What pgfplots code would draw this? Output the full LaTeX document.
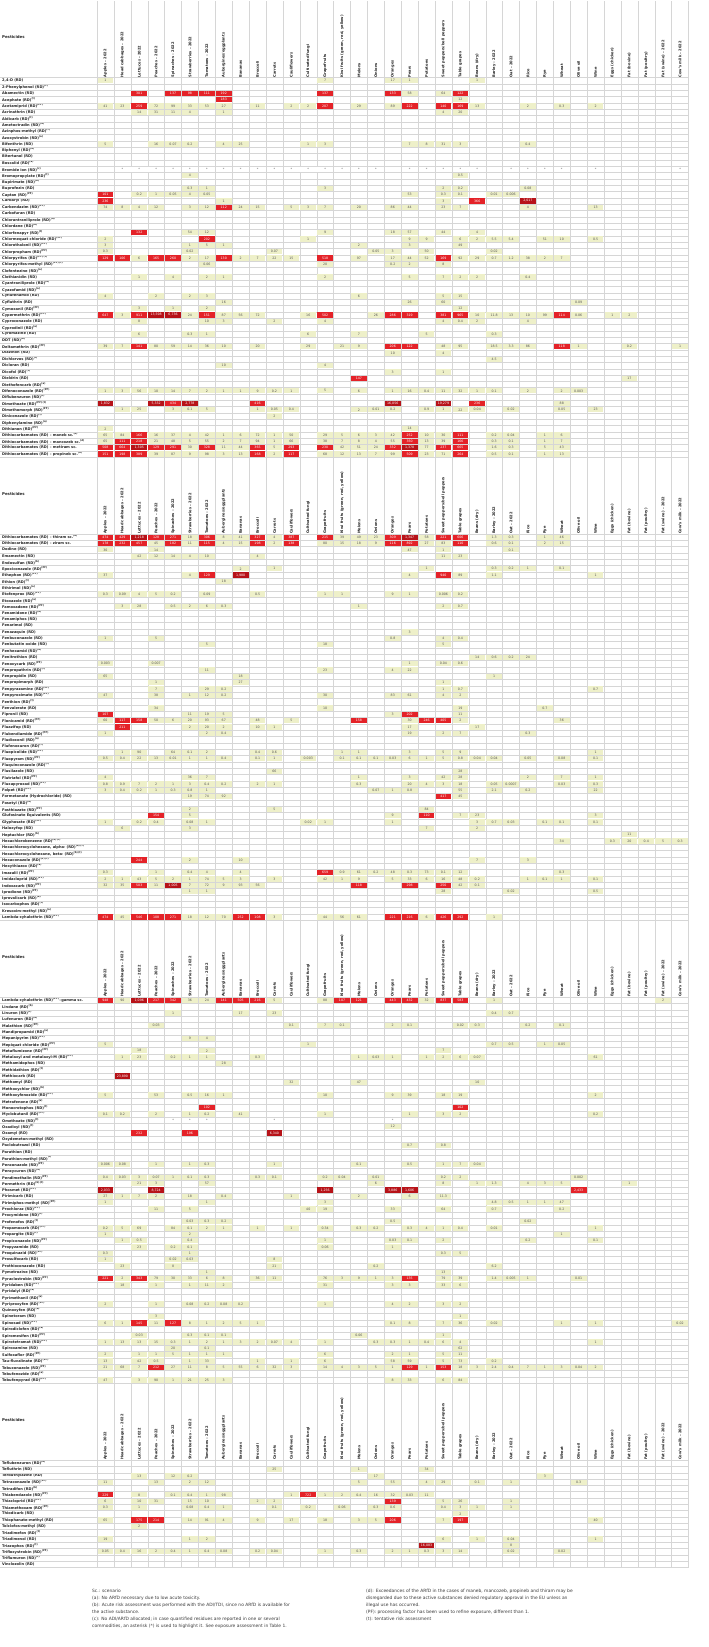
\documentclass[border=0pt]{standalone}
\usepackage{pgfplots}
\usepackage{pgfplotstable}
\pgfplotsset{compat=1.18}
\usepackage{fontspec}
\setmainfont{DejaVu Sans}
\definecolor{cg}{RGB}{238,240,201}
\definecolor{cr}{RGB}{228,34,40}
\definecolor{cd}{RGB}{183,18,24}
\definecolor{gridc}{RGB}{214,214,214}
\definecolor{txtd}{RGB}{35,35,35}
\definecolor{txtv}{RGB}{85,85,85}
\definecolor{txtf}{RGB}{60,60,60}
\newcommand\namefont{\fontsize{3.6bp}{4bp}\selectfont\bfseries}
\newcommand\valfont{\fontsize{3.2bp}{4bp}\selectfont}
\newcommand\hdrfont{\fontsize{3.6bp}{4bp}\selectfont\bfseries}
\newcommand\footfont{\fontsize{4.4bp}{5bp}\selectfont}
\newcommand\s[1]{\textsuperscript{(#1)}}
\pgfdeclareplotmark{cell}{\pgfpathrectangle{\pgfpoint{-7.85bp}{-2.66bp}}{\pgfpoint{15.7bp}{5.32bp}}\pgfusepathqfill}
\pgfplotsset{
 tbl/.style={scale only axis, width=591.5bp, xmin=0, xmax=35, ymin=0, y dir=reverse, clip=false,
  axis line style={draw=gridc, line width=0.4bp},
  xtick={0.5,1.5,...,34.5},
  xticklabels={Apples – 2022, Head cabbages – 2022, Lettuces – 2022, Peaches – 2022, Spinaches – 2022, Strawberries – 2022, Tomatoes – 2022, Aubergines/eggplants, Bananas, Broccoli, Carrots, Cauliflowers, Cultivated fungi, Grapefruits, {Kiwi fruits (green, red, yellow)}, Melons, Onions, Oranges, Pears, Potatoes, Sweet peppers/bell peppers, Table grapes, Beans (dry), Barley – 2022, Oat – 2022, Rice, Rye, Wheat, Olive oil, Wine, Eggs (chicken), Fat (bovine), Fat (poultry), Fat (swine) – 2022, Cow's milk – 2022},
  xticklabel pos=right,
  xticklabel style={rotate=90, anchor=west, font=\hdrfont, text=txtd, inner sep=0pt},
  minor xtick={0,1,...,35}, xminorgrids=true, yminorgrids=true,
  minor grid style={draw=gridc, line width=0.35bp},
  major tick length=0pt, minor tick length=0pt,
  yticklabel style={anchor=west, font=\namefont, text=txtd, inner sep=0pt, xshift=-95bp}},
 pcell/.style 2 args={only marks, mark=cell, mark options={fill=#1, draw=none}, point meta=explicit symbolic,
  nodes near coords, every node near coord/.append style={anchor=center, font=\valfont, text=#2, inner sep=0pt}},
 cls/.style={restrict expr to domain={\thisrow{c}}{#1:#1}}
}
\newcommand\cellplots[1]{%
 \addplot[pcell={cg}{txtv}, cls=0] table[x expr=\thisrow{x}+0.5, y expr=\thisrow{y}+0.5, meta=v]{#1};
 \addplot[pcell={cr}{white}, cls=1] table[x expr=\thisrow{x}+0.5, y expr=\thisrow{y}+0.5, meta=v]{#1};
 \addplot[pcell={cd}{white}, cls=2] table[x expr=\thisrow{x}+0.5, y expr=\thisrow{y}+0.5, meta=v]{#1};}
\newcommand\starplot[1]{%
 \addplot[pcell={white}{txtv}, cls=3] table[x expr=\thisrow{x}+0.5, y expr=\thisrow{y}+0.5, meta=v]{#1};}
\newcommand\deco[1]{%
 \pgfplotsinvokeforeach{0,...,35}{\draw[gridc,line width=0.35bp] (axis cs:##1,0) -- ++(0,77bp);}
 \pgfplotsinvokeforeach{0,...,#1}{\draw[gridc,line width=0.35bp] (axis cs:0,##1) -- ++(-97bp,0);}
 \node[anchor=west, font=\fontsize{3.9bp}{4bp}\selectfont\bfseries, text=txtd, inner sep=0pt] at ([xshift=-95bp,yshift=40bp]axis cs:0,0) {Pesticides};}
% ---------------- data: x = commodity column, y = pesticide row, v = value, c = class (0 low, 1 high, 2 very high, 3 asterisk)
\pgfplotstableread[row sep=\\]{
x y v c\\
0 0 1 0\\ 13 0 7 0\\ 17 0 17 0\\ 18 0 1 0\\ 22 0 1 0\\
2 2 301 1\\ 4 2 137 1\\ 5 2 98 1\\ 6 2 111 1\\ 7 2 192 1\\ 13 2 137 1\\ 17 2 133 1\\ 18 2 58 0\\ 20 2 64 0\\ 21 2 122 1\\
7 3 183 1\\ 21 3 12 0\\
0 4 41 0\\ 1 4 23 0\\ 2 4 259 1\\ 3 4 72 0\\ 4 4 99 0\\ 5 4 33 0\\ 6 4 53 0\\ 7 4 27 0\\ 9 4 11 0\\ 11 4 2 0\\ 12 4 2 0\\ 13 4 207 1\\ 15 4 29 0\\ 17 4 89 0\\ 18 4 222 1\\ 20 4 140 1\\ 21 4 169 1\\ 22 4 13 0\\ 25 4 2 0\\ 27 4 0.3 0\\ 29 4 2 0\\
2 5 14 0\\ 3 5 31 0\\ 4 5 11 0\\ 5 5 4 0\\ 7 5 1 0\\ 20 5 4 0\\ 21 5 20 0\\
0 10 5 0\\ 3 10 16 0\\ 4 10 0.07 0\\ 5 10 0.2 0\\ 7 10 4 0\\ 8 10 25 0\\ 12 10 1 0\\ 13 10 3 0\\ 18 10 7 0\\ 19 10 8 0\\ 20 10 31 0\\ 21 10 3 0\\ 25 10 0.4 0\\
1 14 * 3\\ 2 14 * 3\\ 3 14 * 3\\ 4 14 * 3\\ 5 14 * 3\\ 6 14 * 3\\ 7 14 * 3\\ 8 14 * 3\\ 9 14 * 3\\ 10 14 * 3\\ 11 14 * 3\\ 12 14 * 3\\ 13 14 * 3\\ 14 14 * 3\\ 15 14 * 3\\ 16 14 * 3\\ 18 14 * 3\\ 19 14 * 3\\ 20 14 * 3\\ 21 14 * 3\\ 22 14 * 3\\ 24 14 * 3\\ 25 14 * 3\\ 26 14 * 3\\ 27 14 * 3\\ 29 14 * 3\\ 34 14 * 3\\
5 15 4 0\\ 21 15 0.5 0\\
5 17 0.3 0\\ 6 17 1 0\\ 13 17 3 0\\ 20 17 2 0\\ 21 17 0.2 0\\ 25 17 0.08 0\\
0 18 101 1\\ 2 18 0.2 0\\ 3 18 1 0\\ 4 18 0.05 0\\ 5 18 4 0\\ 6 18 0.05 0\\ 18 18 53 0\\ 20 18 0.3 0\\ 21 18 0.1 0\\ 23 18 0.01 0\\ 24 18 0.006 0\\
0 19 236 1\\ 7 19 1 0\\ 20 19 3 0\\ 22 19 366 1\\ 25 19 2,017 2\\
0 20 74 0\\ 1 20 8 0\\ 2 20 4 0\\ 3 20 12 0\\ 5 20 3 0\\ 6 20 12 0\\ 7 20 112 1\\ 8 20 24 0\\ 9 20 15 0\\ 11 20 5 0\\ 12 20 3 0\\ 13 20 7 0\\ 15 20 20 0\\ 17 20 86 0\\ 18 20 44 0\\ 20 20 23 0\\ 21 20 7 0\\ 25 20 4 0\\ 29 20 13 0\\
2 24 132 1\\ 5 24 54 0\\ 6 24 12 0\\ 13 24 9 0\\ 17 24 18 0\\ 18 24 57 0\\ 20 24 44 0\\ 22 24 4 0\\
0 25 2 0\\ 6 25 202 1\\ 12 25 1 0\\ 18 25 9 0\\ 19 25 9 0\\ 21 25 6 0\\ 22 25 2 0\\ 23 25 5.5 0\\ 24 25 5.4 0\\ 26 25 51 0\\ 27 25 10 0\\ 29 25 0.5 0\\
0 26 3 0\\ 5 26 1 0\\ 6 26 5 0\\ 7 26 1 0\\ 15 26 2 0\\ 18 26 3 0\\ 21 26 49 0\\
0 27 0.3 0\\ 5 27 0.02 0\\ 10 27 0.07 0\\ 16 27 0.05 0\\ 17 27 3 0\\ 19 27 50 0\\ 23 27 0.02 0\\
0 28 129 1\\ 1 28 106 1\\ 2 28 6 0\\ 3 28 165 1\\ 4 28 260 1\\ 5 28 2 0\\ 6 28 17 0\\ 7 28 130 1\\ 8 28 2 0\\ 9 28 7 0\\ 10 28 22 0\\ 11 28 15 0\\ 13 28 518 1\\ 15 28 97 0\\ 17 28 17 0\\ 18 28 44 0\\ 19 28 52 0\\ 20 28 169 1\\ 21 28 92 0\\ 22 28 29 0\\ 23 28 0.7 0\\ 24 28 1.2 0\\ 25 28 38 0\\ 26 28 2 0\\ 27 28 7 0\\
6 29 0.06 0\\ 13 29 20 0\\ 17 29 0.2 0\\ 18 29 2 0\\ 20 29 8 0\\
2 31 1 0\\ 4 31 4 0\\ 6 31 2 0\\ 7 31 1 0\\ 13 31 2 0\\ 18 31 5 0\\ 20 31 7 0\\ 21 31 2 0\\ 22 31 2 0\\ 25 31 0.4 0\\
0 34 4 0\\ 3 34 2 0\\ 5 34 2 0\\ 6 34 3 0\\ 15 34 6 0\\ 20 34 5 0\\ 21 34 15 0\\
7 35 16 0\\ 18 35 26 0\\ 20 35 60 0\\ 28 35 0.09 0\\
2 36 3 0\\ 4 36 1 0\\ 6 36 2 0\\ 21 36 12 0\\
0 37 647 1\\ 1 37 3 0\\ 2 37 911 1\\ 3 37 13,598 2\\ 4 37 6,736 2\\ 5 37 24 0\\ 6 37 151 1\\ 7 37 87 0\\ 8 37 56 0\\ 9 37 72 0\\ 12 37 16 0\\ 13 37 502 1\\ 16 37 26 0\\ 17 37 286 1\\ 18 37 319 1\\ 20 37 381 1\\ 21 37 965 1\\ 22 37 10 0\\ 23 37 11.8 0\\ 24 37 13 0\\ 25 37 10 0\\ 26 37 99 0\\ 27 37 114 1\\ 28 37 0.06 0\\ 30 37 1 0\\ 31 37 2 0\\
2 38 8 0\\ 6 38 10 0\\ 7 38 3 0\\ 10 38 2 0\\ 13 38 4 0\\ 20 38 4 0\\ 21 38 0.4 0\\ 22 38 2 0\\ 25 38 4 0\\
2 40 6 0\\ 5 40 0.3 0\\ 6 40 1 0\\ 12 40 6 0\\ 15 40 7 0\\ 19 40 5 0\\ 23 40 0.3 0\\
0 42 39 0\\ 1 42 7 0\\ 2 42 141 1\\ 3 42 80 0\\ 4 42 59 0\\ 5 42 14 0\\ 6 42 36 0\\ 7 42 10 0\\ 9 42 20 0\\ 12 42 29 0\\ 14 42 21 0\\ 15 42 9 0\\ 17 42 206 1\\ 18 42 122 1\\ 20 42 48 0\\ 21 42 95 0\\ 23 42 18.5 0\\ 24 42 3.3 0\\ 25 42 86 0\\ 27 42 118 1\\ 28 42 1 0\\ 31 42 0.2 0\\ 34 42 1 0\\
17 43 10 0\\ 20 43 4 0\\
23 44 4.5 0\\
7 45 10 0\\ 13 45 4 0\\
17 46 3 0\\ 20 46 1 0\\
15 47 147 1\\ 31 47 17 0\\
0 49 1 0\\ 1 49 3 0\\ 2 49 56 0\\ 3 49 10 0\\ 4 49 14 0\\ 5 49 7 0\\ 6 49 2 0\\ 7 49 1 0\\ 8 49 1 0\\ 9 49 9 0\\ 10 49 0.2 0\\ 11 49 1 0\\ 13 49 5 0\\ 15 49 6 0\\ 17 49 1 0\\ 18 49 16 0\\ 19 49 0.4 0\\ 20 49 11 0\\ 21 49 32 0\\ 22 49 1 0\\ 23 49 0.1 0\\ 25 49 2 0\\ 27 49 2 0\\ 28 49 0.003 0\\
0 51 1,832 2\\ 3 51 5,332 2\\ 4 51 434 1\\ 5 51 2,778 2\\ 9 51 416 1\\ 17 51 16,056 2\\ 20 51 19,279 2\\ 22 51 236 1\\ 27 51 88 0\\
1 52 1 0\\ 2 52 25 0\\ 4 52 3 0\\ 5 52 0.1 0\\ 6 52 5 0\\ 9 52 1 0\\ 10 52 0.05 0\\ 11 52 0.4 0\\ 15 52 2 0\\ 16 52 0.01 0\\ 17 52 0.2 0\\ 19 52 0.9 0\\ 20 52 1 0\\ 21 52 22 0\\ 22 52 0.04 0\\ 24 52 0.02 0\\ 27 52 0.05 0\\ 29 52 23 0\\
10 53 2 0\\
0 55 2 0\\ 18 55 14 0\\
0 56 65 0\\ 1 56 84 0\\ 2 56 166 1\\ 3 56 16 0\\ 4 56 37 0\\ 5 56 4 0\\ 6 56 42 0\\ 7 56 1 0\\ 8 56 6 0\\ 9 56 72 0\\ 10 56 1 0\\ 11 56 50 0\\ 13 56 29 0\\ 14 56 5 0\\ 15 56 6 0\\ 16 56 3 0\\ 17 56 42 0\\ 18 56 252 1\\ 19 56 10 0\\ 20 56 30 0\\ 21 56 111 1\\ 23 56 0.2 0\\ 24 56 0.04 0\\ 26 56 1 0\\ 27 56 6 0\\
0 57 65 0\\ 1 57 111 1\\ 2 57 218 1\\ 3 57 21 0\\ 4 57 48 0\\ 5 57 5 0\\ 6 57 55 0\\ 7 57 2 0\\ 8 57 7 0\\ 9 57 94 0\\ 10 57 1 0\\ 11 57 66 0\\ 13 57 38 0\\ 14 57 7 0\\ 15 57 8 0\\ 16 57 4 0\\ 17 57 55 0\\ 18 57 350 1\\ 19 57 13 0\\ 20 57 39 0\\ 21 57 166 1\\ 23 57 0.3 0\\ 24 57 0.1 0\\ 26 57 1 0\\ 27 57 7 0\\
0 58 508 1\\ 1 58 664 1\\ 2 58 1,305 2\\ 3 58 129 1\\ 4 58 291 1\\ 5 58 30 0\\ 6 58 328 1\\ 7 58 11 0\\ 8 58 44 0\\ 9 58 365 1\\ 10 58 5 0\\ 11 58 293 1\\ 13 58 230 1\\ 14 58 42 0\\ 15 58 51 0\\ 16 58 24 0\\ 17 58 332 1\\ 18 58 1,378 2\\ 19 58 77 0\\ 20 58 237 1\\ 21 58 665 1\\ 23 58 1.6 0\\ 24 58 0.3 0\\ 26 58 5 0\\ 27 58 43 0\\
0 59 151 1\\ 1 59 198 1\\ 2 59 389 1\\ 3 59 39 0\\ 4 59 87 0\\ 5 59 9 0\\ 6 59 98 0\\ 7 59 3 0\\ 8 59 13 0\\ 9 59 168 1\\ 10 59 2 0\\ 11 59 117 1\\ 13 59 68 0\\ 14 59 12 0\\ 15 59 13 0\\ 16 59 7 0\\ 17 59 99 0\\ 18 59 509 1\\ 19 59 23 0\\ 20 59 71 0\\ 21 59 264 1\\ 23 59 0.5 0\\ 24 59 0.1 0\\ 26 59 1 0\\ 27 59 13 0\\
}\tA
\pgfplotstableread[row sep=\\]{
x y v c\\
0 0 474 1\\ 1 0 429 1\\ 2 0 1,218 2\\ 3 0 128 1\\ 4 0 271 1\\ 5 0 18 0\\ 6 0 306 1\\ 7 0 8 0\\ 8 0 41 0\\ 9 0 327 1\\ 10 0 4 0\\ 11 0 387 1\\ 13 0 215 1\\ 14 0 39 0\\ 15 0 49 0\\ 16 0 23 0\\ 17 0 309 1\\ 18 0 1,347 2\\ 19 0 58 0\\ 20 0 221 1\\ 21 0 606 1\\ 23 0 1.3 0\\ 24 0 0.3 0\\ 26 0 1 0\\ 27 0 46 0\\
0 1 178 1\\ 1 1 232 1\\ 2 1 457 1\\ 3 1 45 0\\ 4 1 182 1\\ 5 1 11 0\\ 6 1 115 1\\ 7 1 4 0\\ 8 1 15 0\\ 9 1 198 1\\ 10 1 2 0\\ 11 1 138 1\\ 13 1 80 0\\ 14 1 15 0\\ 15 1 18 0\\ 16 1 9 0\\ 17 1 116 1\\ 18 1 892 1\\ 19 1 27 0\\ 20 1 83 0\\ 21 1 110 1\\ 23 1 0.6 0\\ 24 1 0.1 0\\ 26 1 2 0\\ 27 1 15 0\\
0 2 30 0\\ 3 2 14 0\\ 18 2 47 0\\ 20 2 1 0\\ 24 2 0.1 0\\
2 3 42 0\\ 3 3 12 0\\ 4 3 14 0\\ 5 3 4 0\\ 6 3 10 0\\ 9 3 4 0\\ 20 3 11 0\\ 21 3 23 0\\
8 5 2 0\\ 10 5 1 0\\ 19 5 1 0\\ 23 5 0.3 0\\ 24 5 0.2 0\\ 25 5 1 0\\ 27 5 0.1 0\\
0 6 37 0\\ 5 6 4 0\\ 6 6 129 1\\ 8 6 1,980 2\\ 18 6 4 0\\ 20 6 940 1\\ 21 6 89 0\\ 23 6 1.1 0\\ 29 6 1 0\\
7 7 18 0\\
0 9 0.3 0\\ 1 9 0.09 0\\ 2 9 4 0\\ 3 9 5 0\\ 4 9 0.2 0\\ 6 9 0.09 0\\ 9 9 0.5 0\\ 13 9 1 0\\ 14 9 1 0\\ 17 9 9 0\\ 18 9 1 0\\ 20 9 0.006 0\\ 21 9 0.2 0\\
1 11 3 0\\ 2 11 28 0\\ 4 11 0.5 0\\ 5 11 2 0\\ 6 11 6 0\\ 7 11 0.3 0\\ 15 11 1 0\\ 20 11 2 0\\ 21 11 0.7 0\\
18 15 3 0\\
0 16 1 0\\ 3 16 5 0\\ 17 16 0.8 0\\ 20 16 4 0\\ 21 16 0.4 0\\
6 17 5 0\\ 13 17 18 0\\ 20 17 5 0\\
22 19 14 0\\ 23 19 0.6 0\\ 24 19 0.2 0\\ 25 19 24 0\\
0 20 0.003 0\\ 3 20 0.007 0\\ 18 20 1 0\\ 20 20 0.04 0\\ 21 20 0.6 0\\
6 21 11 0\\ 13 21 23 0\\ 17 21 4 0\\ 18 21 22 0\\
0 22 65 0\\ 8 22 18 0\\ 23 22 1 0\\
3 23 1 0\\ 8 23 27 0\\ 20 23 1 0\\
3 24 7 0\\ 6 24 29 0\\ 7 24 0.2 0\\ 20 24 1 0\\ 21 24 0.7 0\\ 29 24 0.7 0\\
0 25 47 0\\ 3 25 38 0\\ 5 25 1 0\\ 6 25 12 0\\ 7 25 0.2 0\\ 13 25 30 0\\ 17 25 83 0\\ 18 25 61 0\\ 20 25 4 0\\ 21 25 2 0\\
3 27 34 0\\ 13 27 10 0\\ 21 27 19 0\\ 26 27 0.7 0\\
0 28 107 1\\ 5 28 11 0\\ 6 28 19 0\\ 7 28 5 0\\ 17 28 3 0\\ 18 28 202 1\\ 21 28 11 0\\
0 29 60 0\\ 1 29 117 1\\ 2 29 158 1\\ 3 29 50 0\\ 4 29 6 0\\ 5 29 20 0\\ 6 29 93 0\\ 7 29 67 0\\ 9 29 48 0\\ 11 29 5 0\\ 15 29 158 1\\ 18 29 30 0\\ 19 29 246 1\\ 20 29 405 1\\ 21 29 2 0\\ 27 29 36 0\\
1 30 211 1\\ 5 30 2 0\\ 6 30 20 0\\ 7 30 2 0\\ 9 30 10 0\\ 10 30 1 0\\ 18 30 17 0\\ 22 30 17 0\\
0 31 1 0\\ 6 31 2 0\\ 7 31 0.4 0\\ 18 31 19 0\\ 20 31 2 0\\ 21 31 7 0\\ 25 31 0.3 0\\
1 34 1 0\\ 2 34 90 0\\ 4 34 64 0\\ 5 34 0.1 0\\ 6 34 2 0\\ 9 34 0.4 0\\ 10 34 0.6 0\\ 14 34 1 0\\ 15 34 1 0\\ 18 34 3 0\\ 20 34 5 0\\ 21 34 9 0\\ 29 34 1 0\\
0 35 0.5 0\\ 1 35 0.4 0\\ 2 35 22 0\\ 3 35 13 0\\ 4 35 0.01 0\\ 5 35 1 0\\ 6 35 1 0\\ 7 35 0.4 0\\ 9 35 0.1 0\\ 10 35 1 0\\ 12 35 0.003 0\\ 14 35 0.1 0\\ 15 35 0.1 0\\ 16 35 0.1 0\\ 17 35 0.03 0\\ 18 35 6 0\\ 19 35 1 0\\ 20 35 5 0\\ 21 35 0.8 0\\ 22 35 0.04 0\\ 23 35 0.04 0\\ 25 35 0.05 0\\ 27 35 0.08 0\\ 29 35 0.1 0\\
10 37 66 0\\ 21 37 28 0\\
0 38 4 0\\ 5 38 36 0\\ 6 38 7 0\\ 15 38 1 0\\ 18 38 3 0\\ 20 38 42 0\\ 21 38 28 0\\ 25 38 2 0\\ 27 38 7 0\\ 29 38 1 0\\
0 39 0.8 0\\ 1 39 0.9 0\\ 2 39 7 0\\ 3 39 2 0\\ 4 39 1 0\\ 5 39 3 0\\ 6 39 0.4 0\\ 7 39 0.2 0\\ 9 39 2 0\\ 10 39 1 0\\ 15 39 0.3 0\\ 18 39 20 0\\ 19 39 4 0\\ 20 39 3 0\\ 21 39 18 0\\ 23 39 0.05 0\\ 24 39 0.0007 0\\ 27 39 0.03 0\\ 29 39 0.3 0\\
0 40 3 0\\ 1 40 0.4 0\\ 2 40 0.2 0\\ 3 40 1 0\\ 4 40 0.3 0\\ 5 40 0.8 0\\ 6 40 1 0\\ 16 40 0.07 0\\ 17 40 1 0\\ 18 40 0.8 0\\ 21 40 55 0\\ 23 40 2.1 0\\ 25 40 0.2 0\\ 29 40 22 0\\
5 41 19 0\\ 6 41 74 0\\ 7 41 92 0\\ 20 41 417 1\\ 21 41 45 0\\
5 43 2 0\\ 10 43 5 0\\ 19 43 84 0\\
3 44 154 1\\ 5 44 5 0\\ 17 44 9 0\\ 19 44 110 1\\ 21 44 7 0\\ 22 44 23 0\\ 29 44 3 0\\
0 45 1 0\\ 2 45 0.2 0\\ 3 45 0.4 0\\ 5 45 0.08 0\\ 6 45 1 0\\ 12 45 0.02 0\\ 13 45 1 0\\ 17 45 1 0\\ 22 45 3 0\\ 23 45 0.7 0\\ 24 45 0.03 0\\ 26 45 0.1 0\\ 27 45 0.1 0\\ 29 45 0.1 0\\
1 46 6 0\\ 5 46 3 0\\ 19 46 7 0\\ 22 46 2 0\\
31 47 11 0\\
27 48 34 0\\ 30 48 0.3 0\\ 31 48 20 0\\ 32 48 0.4 0\\ 33 48 5 0\\ 34 48 0.3 0\\
2 51 244 1\\ 5 51 2 0\\ 8 51 10 0\\ 22 51 7 0\\ 25 51 3 0\\
0 53 0.3 0\\ 3 53 1 0\\ 5 53 0.4 0\\ 6 53 4 0\\ 8 53 4 0\\ 13 53 659 1\\ 14 53 0.9 0\\ 15 53 61 0\\ 16 53 0.2 0\\ 17 53 48 0\\ 18 53 0.3 0\\ 19 53 73 0\\ 20 53 0.1 0\\ 21 53 12 0\\ 27 53 0.3 0\\
0 54 2 0\\ 1 54 1 0\\ 2 54 43 0\\ 3 54 5 0\\ 4 54 2 0\\ 5 54 1 0\\ 6 54 74 0\\ 7 54 5 0\\ 8 54 3 0\\ 10 54 3 0\\ 13 54 42 0\\ 14 54 1 0\\ 15 54 9 0\\ 17 54 5 0\\ 18 54 33 0\\ 19 54 6 0\\ 20 54 16 0\\ 21 54 48 0\\ 22 54 0.2 0\\ 25 54 1 0\\ 26 54 0.1 0\\ 27 54 1 0\\ 29 54 0.1 0\\
0 55 32 0\\ 1 55 35 0\\ 2 55 503 1\\ 3 55 11 0\\ 4 55 1,005 2\\ 5 55 7 0\\ 6 55 72 0\\ 7 55 9 0\\ 8 55 93 0\\ 9 55 56 0\\ 15 55 118 1\\ 18 55 298 1\\ 20 55 250 1\\ 21 55 42 0\\ 22 55 0.1 0\\
5 56 1 0\\ 6 56 1 0\\ 20 56 28 0\\ 24 56 0.02 0\\ 29 56 0.5 0\\
0 60 474 1\\ 1 60 45 0\\ 2 60 546 1\\ 3 60 108 1\\ 4 60 271 1\\ 5 60 18 0\\ 6 60 12 0\\ 7 60 70 0\\ 8 60 252 1\\ 9 60 108 1\\ 10 60 3 0\\ 13 60 44 0\\ 14 60 56 0\\ 15 60 61 0\\ 17 60 221 1\\ 18 60 216 1\\ 19 60 6 0\\ 20 60 426 1\\ 21 60 292 1\\ 23 60 1 0\\
}\tB
\pgfplotstableread[row sep=\\]{
x y v c\\
0 0 948 1\\ 1 0 90 0\\ 2 0 1,096 2\\ 3 0 217 1\\ 4 0 342 1\\ 5 0 36 0\\ 6 0 24 0\\ 7 0 141 1\\ 8 0 505 1\\ 9 0 216 1\\ 10 0 5 0\\ 13 0 88 0\\ 14 0 107 1\\ 15 0 121 1\\ 17 0 443 1\\ 18 0 432 1\\ 19 0 32 0\\ 20 0 837 1\\ 21 0 583 1\\ 23 0 1 0\\ 33 0 2 0\\
4 2 1 0\\ 8 2 17 0\\ 10 2 23 0\\ 23 2 0.4 0\\ 24 2 0.7 0\\
3 4 0.03 0\\ 11 4 0.1 0\\ 13 4 7 0\\ 14 4 0.1 0\\ 17 4 2 0\\ 18 4 0.1 0\\ 21 4 0.02 0\\ 22 4 0.3 0\\ 25 4 0.2 0\\ 27 4 0.1 0\\
5 6 9 0\\ 6 6 4 0\\
0 7 5 0\\ 12 7 1 0\\ 23 7 0.7 0\\ 24 7 0.5 0\\ 26 7 1 0\\ 27 7 0.05 0\\
2 8 18 0\\ 6 8 2 0\\ 20 8 7 0\\
1 9 1 0\\ 2 9 23 0\\ 4 9 0.2 0\\ 5 9 1 0\\ 6 9 1 0\\ 9 9 0.3 0\\ 15 9 1 0\\ 16 9 0.03 0\\ 17 9 1 0\\ 19 9 1 0\\ 20 9 2 0\\ 21 9 6 0\\ 22 9 0.07 0\\ 29 9 61 0\\
7 10 28 0\\
1 12 23,890 2\\
11 13 32 0\\ 15 13 47 0\\ 22 13 10 0\\
0 15 5 0\\ 3 15 53 0\\ 5 15 0.5 0\\ 6 15 16 0\\ 7 15 1 0\\ 13 15 10 0\\ 17 15 9 0\\ 18 15 39 0\\ 20 15 18 0\\ 21 15 19 0\\ 29 15 2 0\\
6 17 102 1\\ 21 17 102 1\\
0 18 0.1 0\\ 1 18 0.2 0\\ 3 18 2 0\\ 5 18 1 0\\ 6 18 0.2 0\\ 8 18 41 0\\ 13 18 1 0\\ 18 18 1 0\\ 20 18 3 0\\ 21 18 2 0\\ 29 18 0.2 0\\
4 19 * 3\\ 5 19 * 3\\ 6 19 * 3\\ 10 19 * 3\\ 17 19 * 3\\
17 20 12 0\\
2 21 232 1\\ 5 21 196 1\\ 10 21 6,340 2\\
18 23 0.7 0\\ 20 23 0.8 0\\
0 26 0.006 0\\ 1 26 0.08 0\\ 3 26 1 0\\ 5 26 1 0\\ 6 26 0.3 0\\ 10 26 1 0\\ 15 26 0.1 0\\ 18 26 0.5 0\\ 20 26 1 0\\ 21 26 7 0\\ 22 26 0.04 0\\
0 28 0.4 0\\ 1 28 0.03 0\\ 2 28 3 0\\ 3 28 0.07 0\\ 4 28 1 0\\ 5 28 0.1 0\\ 6 28 0.3 0\\ 9 28 0.3 0\\ 10 28 0.1 0\\ 13 28 0.2 0\\ 14 28 0.04 0\\ 16 28 0.01 0\\ 20 28 0.2 0\\ 21 28 2 0\\ 28 28 0.002 0\\
2 29 21 0\\ 3 29 3 0\\ 6 29 57 0\\ 16 29 6 0\\ 20 29 8 0\\ 22 29 1 0\\ 23 29 1.3 0\\ 25 29 4 0\\ 26 29 3 0\\ 27 29 5 0\\ 31 29 1 0\\
0 30 2,033 2\\ 3 30 8,724 2\\ 13 30 1,256 2\\ 17 30 3,886 2\\ 18 30 1,606 2\\ 28 30 2,433 1\\
0 31 27 0\\ 1 31 1 0\\ 2 31 7 0\\ 3 31 2 0\\ 5 31 18 0\\ 7 31 0.4 0\\ 11 31 1 0\\ 15 31 2 0\\ 18 31 6 0\\ 20 31 11.3 0\\
0 32 1 0\\ 6 32 1 0\\ 13 32 3 0\\ 23 32 4.8 0\\ 24 32 0.5 0\\ 25 32 1 0\\ 26 32 1 0\\ 27 32 47 0\\
3 33 11 0\\ 5 33 5 0\\ 12 33 40 0\\ 13 33 19 0\\ 17 33 33 0\\ 20 33 64 0\\ 23 33 0.7 0\\ 27 33 0.2 0\\
5 35 0.03 0\\ 6 35 0.3 0\\ 7 35 0.2 0\\ 17 35 0.5 0\\ 25 35 0.02 0\\
0 36 0.2 0\\ 1 36 5 0\\ 2 36 69 0\\ 4 36 84 0\\ 5 36 0.1 0\\ 6 36 2 0\\ 7 36 1 0\\ 9 36 1 0\\ 11 36 1 0\\ 13 36 0.34 0\\ 15 36 0.3 0\\ 16 36 0.2 0\\ 18 36 0.3 0\\ 19 36 4 0\\ 20 36 1 0\\ 21 36 0.4 0\\ 23 36 0.01 0\\ 29 36 1 0\\
0 37 1 0\\ 5 37 2 0\\ 27 37 1 0\\
1 38 1 0\\ 2 38 0.5 0\\ 5 38 0.4 0\\ 13 38 1 0\\ 17 38 0.03 0\\ 18 38 0.1 0\\ 20 38 2 0\\ 25 38 0.2 0\\ 29 38 0.1 0\\
2 39 23 0\\ 4 39 0.2 0\\ 5 39 0.1 0\\ 13 39 0.06 0\\ 17 39 1 0\\
0 40 0.3 0\\ 5 40 1 0\\ 20 40 0.3 0\\ 21 40 5 0\\
0 41 1 0\\ 4 41 0.02 0\\ 5 41 0.03 0\\ 10 41 8 0\\
1 42 23 0\\ 4 42 8 0\\ 10 42 21 0\\ 16 42 0.2 0\\ 23 42 6.2 0\\
6 43 1 0\\ 20 43 13 0\\
0 44 221 1\\ 1 44 2 0\\ 2 44 343 1\\ 3 44 79 0\\ 4 44 30 0\\ 5 44 33 0\\ 6 44 6 0\\ 7 44 8 0\\ 9 44 36 0\\ 10 44 11 0\\ 13 44 76 0\\ 14 44 3 0\\ 15 44 9 0\\ 16 44 1 0\\ 17 44 3 0\\ 18 44 135 1\\ 20 44 79 0\\ 21 44 39 0\\ 23 44 1.4 0\\ 24 44 0.005 0\\ 25 44 1 0\\ 28 44 0.01 0\\
1 45 18 0\\ 3 45 1 0\\ 5 45 1 0\\ 6 45 11 0\\ 7 45 2 0\\ 13 45 31 0\\ 17 45 3 0\\ 18 45 3 0\\ 20 45 33 0\\ 21 45 6 0\\
0 48 2 0\\ 3 48 1 0\\ 5 48 0.08 0\\ 6 48 0.2 0\\ 7 48 0.08 0\\ 8 48 0.2 0\\ 13 48 1 0\\ 17 48 4 0\\ 18 48 2 0\\ 20 48 3 0\\ 21 48 2 0\\
3 50 3 0\\ 21 50 1 0\\
0 51 6 0\\ 1 51 1 0\\ 2 51 145 1\\ 3 51 11 0\\ 4 51 127 1\\ 5 51 8 0\\ 6 51 1 0\\ 7 51 2 0\\ 8 51 5 0\\ 9 51 1 0\\ 17 51 0.1 0\\ 18 51 8 0\\ 20 51 7 0\\ 21 51 36 0\\ 23 51 0.02 0\\ 27 51 1 0\\ 29 51 1 0\\ 34 51 0.02 0\\
2 53 0.03 0\\ 5 53 0.3 0\\ 6 53 0.1 0\\ 7 53 0.1 0\\ 15 53 0.06 0\\ 20 53 1 0\\
0 54 1 0\\ 1 54 13 0\\ 2 54 13 0\\ 3 54 15 0\\ 4 54 0.3 0\\ 5 54 1 0\\ 6 54 2 0\\ 7 54 1 0\\ 8 54 3 0\\ 9 54 2 0\\ 10 54 0.07 0\\ 11 54 4 0\\ 13 54 1 0\\ 16 54 0.3 0\\ 17 54 0.3 0\\ 18 54 1 0\\ 19 54 0.4 0\\ 20 54 6 0\\ 21 54 4 0\\ 29 54 1 0\\
4 55 20 0\\ 6 55 0.1 0\\ 21 55 62 0\\
0 56 2 0\\ 2 56 1 0\\ 3 56 1 0\\ 4 56 5 0\\ 5 56 1 0\\ 6 56 1 0\\ 7 56 1 0\\ 13 56 6 0\\ 17 56 2 0\\ 18 56 1 0\\ 20 56 5 0\\ 21 56 11 0\\
0 57 13 0\\ 2 57 42 0\\ 3 57 0.5 0\\ 5 57 1 0\\ 6 57 33 0\\ 9 57 1 0\\ 11 57 1 0\\ 13 57 6 0\\ 17 57 58 0\\ 18 57 59 0\\ 20 57 5 0\\ 21 57 73 0\\ 23 57 0.2 0\\
0 58 21 0\\ 1 58 68 0\\ 2 58 7 0\\ 3 58 212 1\\ 4 58 27 0\\ 5 58 11 0\\ 6 58 8 0\\ 7 58 5 0\\ 8 58 55 0\\ 9 58 6 0\\ 10 58 32 0\\ 11 58 3 0\\ 13 58 14 0\\ 14 58 4 0\\ 15 58 3 0\\ 16 58 5 0\\ 17 58 1 0\\ 18 58 129 1\\ 19 58 1 0\\ 20 58 153 1\\ 21 58 18 0\\ 22 58 3 0\\ 23 58 2.4 0\\ 24 58 0.4 0\\ 25 58 7 0\\ 26 58 1 0\\ 27 58 3 0\\ 28 58 0.04 0\\ 29 58 2 0\\
0 60 47 0\\ 2 60 3 0\\ 3 60 90 0\\ 4 60 1 0\\ 5 60 21 0\\ 6 60 25 0\\ 7 60 3 0\\ 17 60 8 0\\ 18 60 33 0\\ 20 60 6 0\\ 21 60 84 0\\
}\tC
\pgfplotstableread[row sep=\\]{
x y v c\\
10 1 25 0\\ 15 1 1 0\\ 19 1 34 0\\
2 2 13 0\\ 4 2 12 0\\ 5 2 0.2 0\\ 16 2 17 0\\ 26 2 3 0\\
0 3 11 0\\ 3 3 13 0\\ 5 3 2 0\\ 6 3 12 0\\ 15 3 5 0\\ 17 3 55 0\\ 19 3 4 0\\ 20 3 29 0\\ 22 3 0.1 0\\ 24 3 1 0\\ 28 3 0.3 0\\
0 5 229 1\\ 2 5 8 0\\ 4 5 0.1 0\\ 5 5 0.4 0\\ 6 5 1 0\\ 7 5 98 0\\ 11 5 1 0\\ 12 5 722 1\\ 13 5 1 0\\ 14 5 2 0\\ 15 5 0.4 0\\ 16 5 16 0\\ 17 5 32 0\\ 18 5 0.03 0\\ 19 5 11 0\\
0 6 6 0\\ 2 6 10 0\\ 3 6 31 0\\ 5 6 15 0\\ 6 6 10 0\\ 9 6 2 0\\ 10 6 2 0\\ 17 6 139 1\\ 20 6 5 0\\ 21 6 26 0\\ 24 6 1 0\\
0 7 0.3 0\\ 2 7 1 0\\ 5 7 0.08 0\\ 6 7 0.4 0\\ 7 7 1 0\\ 10 7 0.1 0\\ 12 7 0.2 0\\ 14 7 0.06 0\\ 16 7 0.3 0\\ 17 7 0.6 0\\ 20 7 0.4 0\\ 21 7 3 0\\ 22 7 1 0\\ 24 7 1 0\\
21 8 2 0\\
0 9 65 0\\ 2 9 175 1\\ 3 9 214 1\\ 5 9 14 0\\ 6 9 91 0\\ 7 9 4 0\\ 9 9 9 0\\ 11 9 17 0\\ 13 9 18 0\\ 15 9 3 0\\ 16 9 5 0\\ 17 9 206 1\\ 20 9 7 0\\ 21 9 197 1\\ 29 9 40 0\\
2 10 2 0\\
0 12 19 0\\ 5 12 1 0\\ 6 12 2 0\\ 20 12 6 0\\ 22 12 1 0\\ 24 12 0.04 0\\ 29 12 1 0\\
19 13 16,083 2\\ 24 13 8 0\\
0 14 0.05 0\\ 1 14 0.4 0\\ 2 14 16 0\\ 3 14 2 0\\ 4 14 0.4 0\\ 5 14 1 0\\ 6 14 0.4 0\\ 7 14 0.08 0\\ 9 14 0.2 0\\ 10 14 0.04 0\\ 13 14 1 0\\ 15 14 0.3 0\\ 17 14 2 0\\ 18 14 1 0\\ 19 14 0.3 0\\ 20 14 3 0\\ 21 14 14 0\\ 24 14 0.02 0\\ 27 14 0.02 0\\
}\tD
\begin{document}
\begin{tikzpicture}
\path[use as bounding box, fill=white] (0,0) rectangle (709bp,-1647bp);
% ---------------- block 1
\begin{axis}[tbl, at={(97bp,-77.5bp)}, anchor=north west, height=379.8bp, ymax=60,
 ytick={0.5,1.5,...,59.5}, minor ytick={0,1,...,60},
 yticklabels={{2,4-D (RD)}, 2-Phenylphenol (RD)\s{c}, Abamectin (RD), Acephate (RD)\s{t}, Acetamiprid (RD)\s{PF}, Acrinathrin (RD), Aldicarb (RD)\s{t}, Ametoctradin (RD)\s{a}, Azinphos-methyl (RD)\s{t}, Azoxystrobin (RD)\s{a}, Bifenthrin (RD), Biphenyl (RD)\s{a}, Bitertanol (RD), Boscalid (RD)\s{a}, Bromide ion (RD)\s{c}, Bromopropylate (RD)\s{t}, Bupirimate (RD)\s{a}, Buprofezin (RD), Captan (RD)\s{PF}, Carbaryl (RD), Carbendazim (RD)\s{PF}, Carbofuran (RD), Chlorantraniliprole (RD)\s{a}, Chlordane (RD)\s{b}, Chlorfenapyr (RD)\s{t}, Chlormequat chloride (RD)\s{PF}, Chlorothalonil (RD)\s{PF}, Chlorpropham (RD)\s{PF}, Chlorpyrifos (RD)\s{PF}\s{t}, Chlorpyrifos-methyl (RD)\s{PF}\s{t}, Clofentezine (RD)\s{a}, Clothianidin (RD), Cyantraniliprole (RD)\s{a}, Cyazofamid (RD)\s{a}, Cyflufenamid (RD), Cyfluthrin (RD), Cymoxanil (RD)\s{PF}, Cypermethrin (RD)\s{PF}, Cyproconazole (RD), Cyprodinil (RD)\s{a}, Cyromazine (RD), DDT (RD)\s{b}, Deltamethrin (RD)\s{PF}, Diazinon (RD), Dichlorvos (RD)\s{t}, Dicloran (RD), Dicofol (RD)\s{t}, Dieldrin (RD), Diethofencarb (RD)\s{a}, Difenoconazole (RD)\s{PF}, Diflubenzuron (RD)\s{t}, Dimethoate (RD)\s{PF}\s{t}, Dimethomorph (RD)\s{PF}, Diniconazole (RD)\s{t}, Diphenylamine (RD)\s{a}, Dithianon (RD)\s{PF}, Dithiocarbamates (RD) – maneb sc.\s{d}, Dithiocarbamates (RD) – mancozeb sc.\s{d}, Dithiocarbamates (RD) – metiram sc., Dithiocarbamates (RD) – propineb sc.\s{d}}]
\cellplots{\tA}
\starplot{\tA}
\deco{60}
\end{axis}
% ---------------- block 2
\begin{axis}[tbl, at={(97bp,-534bp)}, anchor=north west, height=386.13bp, ymax=61,
 ytick={0.5,1.5,...,60.5}, minor ytick={0,1,...,61},
 yticklabels={Dithiocarbamates (RD) – thiram sc.\s{d}, Dithiocarbamates (RD) – ziram sc., Dodine (RD), Emamectin (RD), Endosulfan (RD)\s{b}, Epoxiconazole (RD)\s{PF}, Ethephon (RD)\s{PF}, Ethion (RD)\s{t}, Ethirimol (RD)\s{a}, Etofenprox (RD)\s{PF}, Etoxazole (RD)\s{a}, Famoxadone (RD)\s{PF}, Fenamidone (RD)\s{a}, Fenamiphos (RD), Fenarimol (RD), Fenazaquin (RD), Fenbuconazole (RD), Fenbutatin oxide (RD), Fenhexamid (RD)\s{a}, Fenitrothion (RD), Fenoxycarb (RD)\s{PF}, Fenpropathrin (RD)\s{t}, Fenpropidin (RD), Fenpropimorph (RD), Fenpyrazamine (RD)\s{PF}, Fenpyroximate (RD)\s{PF}, Fenthion (RD)\s{t}, Fenvalerate (RD), Fipronil (RD), Flonicamid (RD)\s{PF}, Fluazifop (RD), Flubendiamide (RD)\s{PF}, Fludioxonil (RD)\s{a}, Flufenoxuron (RD)\s{t}, Fluopicolide (RD)\s{PF}, Fluopyram (RD)\s{PF}, Fluquinconazole (RD)\s{t}, Flusilazole (RD), Flutriafol (RD)\s{PF}, Fluxapyroxad (RD)\s{PF}, Folpet (RD)\s{PF}, Formetanate (Hydrochloride) (RD), Fosetyl (RD)\s{a}, Fosthiazate (RD)\s{PF}, Glufosinate Equivalents (RD), Glyphosate (RD)\s{PF}, Haloxyfop (RD), Heptachlor (RD)\s{b}, Hexachlorobenzene (RD)\s{b}\s{t}, {Hexachlorocyclohexane, alpha- (RD)\s{b}\s{t}}, {Hexachlorocyclohexane, beta- (RD)\s{b}\s{t}}, Hexaconazole (RD)\s{b}\s{t}, Hexythiazox (RD)\s{a}, Imazalil (RD)\s{PF}, Imidacloprid (RD)\s{PF}, Indoxacarb (RD)\s{PF}, Iprodione (RD)\s{PF}, Iprovalicarb (RD)\s{a}, Isocarbophos (RD)\s{t}, Kresoxim-methyl (RD)\s{a}, Lambda-cyhalothrin (RD)\s{PF}}]
\cellplots{\tB}
\deco{61}
\end{axis}
% ---------------- block 3
\begin{axis}[tbl, at={(97bp,-997bp)}, anchor=north west, height=386.13bp, ymax=61,
 ytick={0.5,1.5,...,60.5}, minor ytick={0,1,...,61},
 yticklabels={Lambda-cyhalothrin (RD)\s{PF}–gamma sc., Lindane (RD)\s{b}, Linuron (RD)\s{t}, Lufenuron (RD)\s{a}, Malathion (RD)\s{PF}, Mandipropamid (RD)\s{a}, Mepanipyrim (RD)\s{PF}, Mepiquat chloride (RD)\s{PF}, Metaflumizone (RD)\s{PF}, Metalaxyl and metalaxyl-M (RD)\s{PF}, Methamidophos (RD), Methidathion (RD)\s{t}, Methiocarb (RD), Methomyl (RD), Methoxychlor (RD)\s{b}, Methoxyfenozide (RD)\s{PF}, Metrafenone (RD)\s{a}, Monocrotophos (RD)\s{t}, Myclobutanil (RD)\s{PF}, Omethoate (RD)\s{t}, Oxadixyl (RD)\s{t}, Oxamyl (RD), Oxydemeton-methyl (RD), Paclobutrazol (RD), Parathion (RD), Parathion-methyl (RD)\s{t}, Penconazole (RD)\s{PF}, Pencycuron (RD)\s{a}, Pendimethalin (RD)\s{PF}, Permethrin (RD)\s{b}\s{t}, Phosmet (RD)\s{PF}, Pirimicarb (RD), Pirimiphos-methyl (RD)\s{PF}, Prochloraz (RD)\s{PF}, Procymidone (RD)\s{t}, Profenofos (RD)\s{t}, Propamocarb (RD)\s{PF}, Propargite (RD)\s{t}, Propiconazole (RD)\s{PF}, Propyzamide (RD), Proquinazid (RD)\s{PF}, Prosulfocarb (RD), Prothioconazole (RD), Pymetrozine (RD), Pyraclostrobin (RD)\s{PF}, Pyridaben (RD)\s{PF}, Pyridalyl (RD)\s{a}, Pyrimethanil (RD)\s{a}, Pyriproxyfen (RD)\s{PF}, Quinoxyfen (RD)\s{a}, Spinetoram (RD), Spinosad (RD)\s{PF}, Spirodiclofen (RD)\s{a}, Spiromesifen (RD)\s{PF}, Spirotetramat (RD)\s{PF}, Spiroxamine (RD), Sulfoxaflor (RD)\s{PF}, Tau-fluvalinate (RD)\s{PF}, Tebuconazole (RD)\s{PF}, Tebufenozide (RD)\s{a}, Tebufenpyrad (RD)\s{PF}}]
\cellplots{\tC}
\starplot{\tC}
\deco{61}
\end{axis}
% ---------------- block 4
\begin{axis}[tbl, at={(97bp,-1460bp)}, anchor=north west, height=107.61bp, ymax=17,
 ytick={0.5,1.5,...,16.5}, minor ytick={0,1,...,17},
 yticklabels={Teflubenzuron (RD)\s{a}, Tefluthrin (RD), Terbuthylazine (RD), Tetraconazole (RD)\s{PF}, Tetradifon (RD)\s{b}, Thiabendazole (RD)\s{PF}, Thiacloprid (RD)\s{PF}, Thiamethoxam (RD)\s{PF}, Thiodicarb (RD), Thiophanate-methyl (RD), Tolclofos-methyl (RD), Triadimefon (RD)\s{t}, Triadimenol (RD), Triazophos (RD)\s{t}, Trifloxystrobin (RD)\s{PF}, Triflumuron (RD)\s{c}, Vinclozolin (RD)}]
\cellplots{\tD}
\deco{17}
\end{axis}
% ---------------- footnotes
\begin{scope}[every node/.style={anchor=base west, font=\footfont, text=txtf, inner sep=0pt}]
\node at (92bp,-1592bp) {Sc.: scenario};
\node at (92bp,-1599bp) {(a): No ARfD necessary due to low acute toxicity.};
\node at (92bp,-1606bp) {(b): Acute risk assessment was performed with the ADI/TDI, since no ARfD is available for};
\node at (92bp,-1613bp) {the active substance.};
\node at (92bp,-1620bp) {(c): No ADI/ARfD allocated; in case quantified residues are reported in one or several};
\node at (92bp,-1627bp) {commodities, an asterisk (*) is used to highlight it. See exposure assessment in Table 1.};
\node at (366bp,-1592bp) {(d): Exceedances of the ARfD in the cases of maneb, mancozeb, propineb and thiram may be};
\node at (366bp,-1599bp) {disregarded due to these active substances denied regulatory approval in the EU unless an};
\node at (366bp,-1606bp) {illegal use has occurred.};
\node at (366bp,-1613bp) {(PF): processing factor has been used to refine exposure, different than 1.};
\node at (366bp,-1620bp) {(t): tentative risk assessment};
\end{scope}
\end{tikzpicture}
\end{document}
